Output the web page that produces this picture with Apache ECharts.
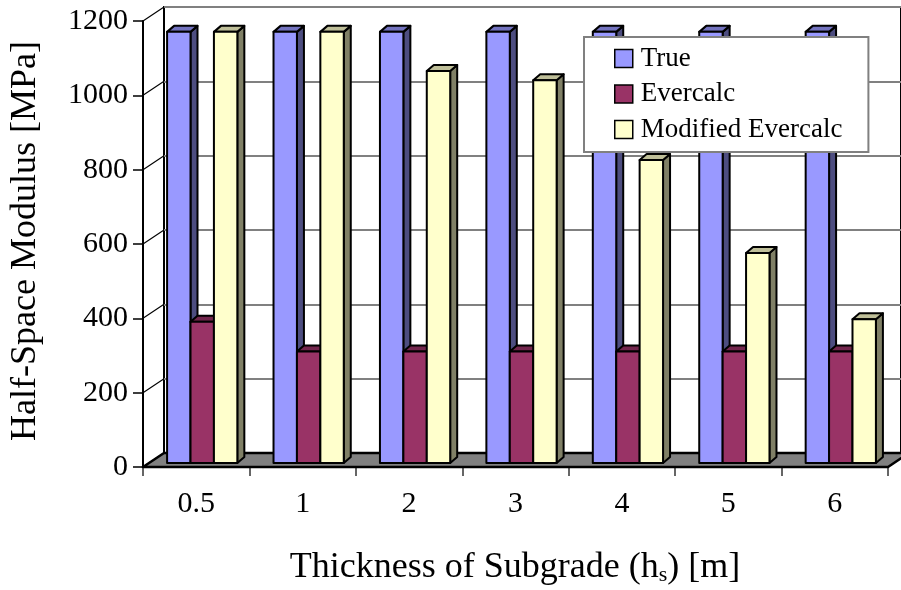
<!DOCTYPE html>
<html><head><meta charset="utf-8">
<script src="https://cdn.jsdelivr.net/npm/echarts@6/dist/echarts.min.js"></script>
<style>html,body{margin:0;padding:0;background:#fff}#c{width:901px;height:590px}</style>
</head><body><div id="c"></div>
<script>
const categories = ['0.5','1','2','3','4','5','6'];
const seriesNames = ['True','Evercalc','Modified Evercalc'];
const trueValues = [1160,1160,1160,1160,1160,1160,1160];
const evercalcValues = [380,300,300,300,300,300,300];
const modifiedValues = [1160,1160,1055,1030,815,565,387];
const yTicks = [0,200,400,600,800,1000,1200];

const FONT = 'Liberation Serif';
const DEPTH_DX = 21, DEPTH_DY = -14;   // floor / wall depth
const BAR_DX = 6, BAR_DY = -4;         // bars sit slightly back
const BAR_TOP_DX = 7, BAR_TOP_DY = -6; // bar depth
const BAR_FRAC = 0.22;

const palettes = [
  {front:'#9999FF', top:'#7373BF', side:'#4D4D80'},
  {front:'#993366', top:'#73264D', side:'#4D1A33'},
  {front:'#FFFFCC', top:'#BFBF99', side:'#808066'}
];
const valueSets = [trueValues, evercalcValues, modifiedValues];

function barRenderer(sIdx){
  const p = palettes[sIdx];
  return function(params, api){
    const i = api.value(0), v = api.value(1);
    const c = api.coord([i, v]);
    const b = api.coord([i, 0]);
    const bw = api.size([1, 0])[0];
    const w = bw * BAR_FRAC;
    const cx = c[0] + (sIdx - 1) * w + BAR_DX;
    const x0 = cx - w/2, x1 = cx + w/2;
    const yt = c[1] + BAR_DY, yb = b[1] + BAR_DY;
    const st = {stroke:'#000', lineWidth:2, lineJoin:'round'};
    return {type:'group', children:[
      {type:'polygon', shape:{points:[[x1,yb],[x1+BAR_TOP_DX,yb+BAR_TOP_DY],[x1+BAR_TOP_DX,yt+BAR_TOP_DY],[x1,yt]]}, style:Object.assign({fill:p.side}, st)},
      {type:'polygon', shape:{points:[[x0,yt],[x1,yt],[x1+BAR_TOP_DX,yt+BAR_TOP_DY],[x0+BAR_TOP_DX,yt+BAR_TOP_DY]]}, style:Object.assign({fill:p.top}, st)},
      {type:'rect', shape:{x:x0,y:yt,width:w,height:yb-yt}, style:Object.assign({fill:p.front}, st)}
    ]};
  };
}

function floorRenderer(params, api){
  const bw = api.size([1, 0])[0];
  const l = api.coord([0, 0]);
  const r = api.coord([categories.length - 1, 0]);
  const xl = l[0] - bw/2, xr = r[0] + bw/2, y0 = l[1];
  const children = [];
  yTicks.forEach(t => {
    const y = api.coord([0, t])[1];
    children.push({type:'line', shape:{x1:xl, y1:y, x2:xl+DEPTH_DX, y2:y+DEPTH_DY}, style:{stroke:'#000', lineWidth:1.2}});
  });
  children.push({type:'polygon', shape:{points:[[xl,y0],[xr,y0],[xr+DEPTH_DX,y0+DEPTH_DY],[xl+DEPTH_DX,y0+DEPTH_DY]]},
    style:{fill:'#808080', stroke:'#000', lineWidth:2.5, lineJoin:'round'}});
  return {type:'group', children};
}

const series = [{
  type:'custom', name:'floor', xAxisIndex:0, yAxisIndex:0, silent:true,
  data:[[0,0]], renderItem:floorRenderer, z:1
}];
seriesNames.forEach((n, s) => {
  series.push({
    type:'custom', name:n, xAxisIndex:0, yAxisIndex:0,
    itemStyle:{color:palettes[s].front},
    data:categories.map((c, i) => [i, valueSets[s][i]]),
    renderItem:barRenderer(s), z:3
  });
});

const chart = echarts.init(document.getElementById('c'), null, {renderer:'canvas'});
chart.setOption({
  animation:false,
  backgroundColor:'#fff',
  grid:[
    {left:143, top:21, width:745, height:446},
    {left:164, top:7, width:745, height:446, show:true, backgroundColor:'#fff', borderColor:'#000', borderWidth:2}
  ],
  xAxis:[
    {type:'category', gridIndex:0, data:categories,
     axisLine:{show:false},
     axisTick:{show:true, length:9, lineStyle:{color:'#666', width:2}},
     axisLabel:{margin:22, fontFamily:FONT, fontSize:30, color:'#000'}},
    {type:'category', gridIndex:1, data:categories, show:false}
  ],
  yAxis:[
    {type:'value', gridIndex:0, min:0, max:1200, interval:200,
     axisLine:{show:true, lineStyle:{color:'#000', width:2}},
     axisTick:{show:true, length:10, lineStyle:{color:'#000', width:1.5}},
     axisLabel:{margin:15, fontFamily:FONT, fontSize:30, color:'#000', formatter:v => String(v)},
     splitLine:{show:false}},
    {type:'value', gridIndex:1, min:0, max:1200, interval:200,
     axisLine:{show:false}, axisTick:{show:false}, axisLabel:{show:false},
     splitLine:{show:true, lineStyle:{color:'#808080', width:2}}}
  ],
  legend:{
    data:seriesNames, orient:'vertical', left:584, top:37,
    padding:[8,26,9,30], itemGap:8.5, itemWidth:18, itemHeight:18, icon:'rect',
    backgroundColor:'#fff', borderColor:'#808080', borderWidth:2,
    textStyle:{fontFamily:FONT, fontSize:27, color:'#000', padding:[0,0,0,3]},
    itemStyle:{borderColor:'#000', borderWidth:1.5}
  },
  graphic:[
    {type:'text', x:26, y:241, rotation:Math.PI/2,
     style:{text:'Half-Space Modulus [MPa]', fontFamily:FONT, fontSize:36, fill:'#000', align:'center', verticalAlign:'middle'}},
    {type:'text', x:515, y:568,
     style:{text:'Thickness of Subgrade (h{s|s}) [m]', fontFamily:FONT, fontSize:36, fill:'#000', align:'center', verticalAlign:'middle',
       rich:{s:{fontFamily:FONT, fontSize:22, fill:'#000', verticalAlign:'bottom'}}}}
  ],
  series
});
</script></body></html>
